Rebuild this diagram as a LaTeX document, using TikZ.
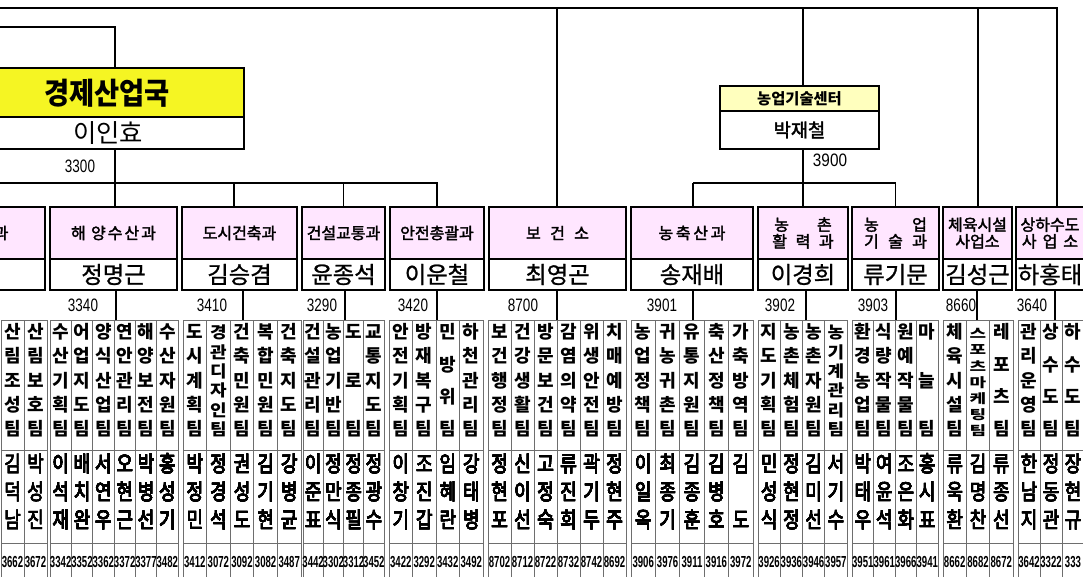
\documentclass[tikz,border=0pt]{standalone}
\usepackage{graphicx}
\usepackage{fontspec}
\setmainfont{Noto Sans CJK KR}
\newfontfamily\krmed[FakeBold=1]{Noto Sans CJK KR}
\newfontfamily\krsemi[FakeBold=2.2]{Noto Sans CJK KR}
\newfontfamily\numfont{Liberation Sans}
\usetikzlibrary{fit}
\definecolor{deptpink}{RGB}{255,230,255}
\definecolor{gukyellow}{RGB}{245,245,35}
\definecolor{centeryellow}{RGB}{255,255,190}
\definecolor{gridgray}{RGB}{110,110,110}

% one team column: chars spread from top to bottom
\newcommand\teamcol[3]{%
  \foreach \tc [count=\kk] in #3 {\xdef\nch{\kk}}%
  \pgfmathsetmacro\gap{97/(\nch-1)}%
  \pgfmathsetmacro\sy{min(1,(\gap-4)/17)}%
  \foreach \tc [count=\kk] in #3
    \node[teamchar] (team-#1-\kk) at ({#2},{334+(\kk-1)*\gap}) {\scalebox{1}[\sy]{\tc}};%
}

\begin{document}
\begin{tikzpicture}[x=0.75pt, y=-0.75pt,
    orgline/.style={line width=1.2pt},
    dropline/.style={line width=0.8pt},
    deptbox/.style={draw, line width=1.4pt, inner sep=0pt},
    headbox/.style={draw, line width=1.4pt, fill=white, inner sep=0pt},
    depttitle/.style={inner sep=0pt, align=center, font=\krsemi\fontsize{12}{12.5}\selectfont},
    headtext/.style={inner sep=0pt, font=\krmed\fontsize{17.5}{17.5}\selectfont},
    grid/.style={gridgray, line width=0.75pt},
    teamchar/.style={inner sep=0pt, text height=.85em, text depth=.15em,
      font=\fontsize{13.5}{13.5}\selectfont\bfseries},
    headchar/.style={inner sep=0pt, text height=.85em, text depth=.15em,
      font=\krsemi\fontsize{15}{15}\selectfont},
    telnum/.style={inner sep=0pt, font=\numfont\bfseries\fontsize{12}{12}\selectfont},
    deptnum/.style={inner sep=0pt, font=\numfont\fontsize{13.5}{13.5}\selectfont}]
  \useasboundingbox (0,0) rectangle (1083,576);
  \clip (0,0) rectangle (1083,576);
  \fill[white] (0,0) rectangle (1083,576);

  % teams
  \foreach \xa/\xb/\n/\teams/\heads/\nums [count=\g] in {
    1/47/2/{{산,림,조,성,팀},{산,림,보,호,팀}}/{{김,덕,남},{박,성,진}}/{3662,3672},
    50/178/6/{{수,산,기,획,팀},{어,업,지,도,팀},{양,식,산,업,팀},{연,안,관,리,팀},{해,양,보,전,팀},{수,산,자,원,팀}}/{{이,석,재},{배,치,완},{서,연,우},{오,현,근},{박,병,선},{홍,성,기}}/{3342,3352,3362,3372,3377,3482},
    183/301/5/{{도,시,계,획,팀},{경,관,디,자,인,팀},{건,축,민,원,팀},{복,합,민,원,팀},{건,축,지,도,팀}}/{{박,정,민},{정,경,석},{권,성,도},{김,기,현},{강,병,균}}/{3412,3072,3092,3082,3487},
    303/384/4/{{건,설,관,리,팀},{농,업,기,반,팀},{도,로,팀},{교,통,지,도,팀}}/{{이,준,표},{정,만,식},{정,종,필},{정,광,수}}/{3442,3302,3312,3452},
    389/483/4/{{안,전,기,획,팀},{방,재,복,구,팀},{민,방,위,팀},{하,천,관,리,팀}}/{{이,창,기},{조,진,갑},{임,혜,란},{강,태,병}}/{3422,3292,3432,3492},
    488/626/6/{{보,건,행,정,팀},{건,강,생,활,팀},{방,문,보,건,팀},{감,염,의,약,팀},{위,생,안,전,팀},{치,매,예,방,팀}}/{{정,현,포},{신,이,선},{고,정,숙},{류,진,희},{곽,기,두},{정,현,주}}/{8702,8712,8722,8732,8742,8692},
    631/753/5/{{농,업,정,책,팀},{귀,농,귀,촌,팀},{유,통,지,원,팀},{축,산,정,책,팀},{가,축,방,역,팀}}/{{이,일,옥},{최,종,기},{김,종,훈},{김,병,호},{김,{},도}}/{3906,3976,3911,3916,3972},
    758/847/4/{{지,도,기,획,팀},{농,촌,체,험,팀},{농,촌,자,원,팀},{농,기,계,관,리,팀}}/{{민,성,식},{정,현,정},{김,미,선},{서,기,수}}/{3926,3936,3946,3957},
    852/938/4/{{환,경,농,업,팀},{식,량,작,물,팀},{원,예,작,물,팀},{마,늘,팀}}/{{박,태,우},{여,윤,석},{조,은,화},{홍,시,표}}/{3951,3961,3966,3941},
    943/1013/3/{{체,육,시,설,팀},{스,포,츠,마,케,팅,팀},{레,포,츠,팀}}/{{류,욱,환},{김,명,찬},{류,종,선}}/{8662,8682,8672},
    1018/1084/3/{{관,리,운,영,팀},{상,수,도,팀},{하,수,도,팀}}/{{한,남,지},{정,동,관},{장,현,규}}/{3642,3322,333}}
  {
    \pgfmathsetmacro\w{(\xb-\xa)/\n}
    \pgfmathtruncatemacro\nm{\n-1}
    \draw[grid] (\xa,320) rectangle (\xb,590);
    \draw[grid] (\xa,450) -- (\xb,450) (\xa,543) -- (\xb,543);
    \foreach \i in {1,...,\nm}
      \draw[grid] ({\xa+\i*\w},320) -- ({\xa+\i*\w},590);
    \foreach \tm [count=\i] in \teams
      \teamcol{\g-\i}{\xa+(\i-0.5)*\w}{\tm}
    \foreach \hd [count=\i] in \heads
      \foreach \tc [count=\kk] in \hd
        \node[headchar] (head-\g-\i-\kk) at ({\xa+(\i-0.5)*\w},{467+(\kk-1)*28}) {\scalebox{0.9}[1.1]{\tc}};
    \foreach \num [count=\i] in \nums
      \node[telnum] (tel-\g-\i) at ({\xa+(\i-0.5)*\w},562) {\scalebox{0.6}[1]{\num}};
  }

  % departments
  \node[deptbox, fill=deptpink, fit={(-60,207) (45,259)}] (leftdept) {};
  \node[headbox, fit={(-60,259) (45,290)}] (leftdept-name) {};
  \node[depttitle] (leftdept-title) at (1,233) {과};
  \foreach \dept/\xa/\xb/\title/\head in {
    haeyang/50/177/{해\hspace{4pt}양\hspace{1.5pt}수\hspace{1.5pt}산\hspace{1.5pt}과}/정명근,
    dosi/182/297/{도시건축과}/김승겸,
    geonseol/302/385/{건설교통과}/윤종석,
    anjeon/390/484/{안전총괄과}/이운철,
    bogeon/489/626/{보\hspace{7pt}건\hspace{7pt}소}/최영곤,
    nongchuk/631/753/{농\hspace{2pt}축\hspace{2pt}산\hspace{2pt}과}/송재배,
    nongchon/758/848/{농\hspace{21pt}촌\\활\hspace{6.5pt}력\hspace{6.5pt}과}/이경희,
    nongup/852/939/{농\hspace{25pt}업\\기\hspace{7pt}술\hspace{7pt}과}/류기문,
    cheyuk/943/1012/{체육시설\\사업소}/김성근,
    sangha/1016/1084/{상하수도\\사\hspace{4.5pt}업\hspace{4.5pt}소}/하홍태}
  {
    \node[deptbox, fill=deptpink, fit={(\xa,207) (\xb,259)}] (\dept) {};
    \node[depttitle] (\dept-title) at (\dept.center) {\title};
    \node[headbox, fit={(\xa,259) (\xb,290)}] (\dept-name) {};
    \node[headtext] (\dept-head) at (\dept-name.center) {\head};
  }

  % 경제산업국, 농업기술센터
  \node[deptbox, fill=gukyellow, fit={(-14,68) (244,117)}] (guk) {};
  \node[headbox, fit={(-14,117) (244,149)}] (guk-name) {};
  \node[inner sep=0pt, font=\bfseries\fontsize{20.5}{20.5}\selectfont] (guk-title) at (107,93) {\scalebox{1}[1.1]{경제산업국}};
  \node[inner sep=0pt, font=\fontsize{19}{19}\selectfont] (guk-head) at (108,133) {이인효};
  \node[deptbox, fill=centeryellow, fit={(720,86) (879,111)}] (center) {};
  \node[inner sep=0pt, font=\bfseries\fontsize{11.5}{11.5}\selectfont] (center-title) at (center.center) {농업기술센터};
  \node[headbox, fit={(720,111) (879,149)}] (center-name) {};
  \node[inner sep=0pt, font=\krsemi\fontsize{14}{14}\selectfont] (center-head) at (center-name.center) {박재철};
  \node[deptnum] (n-guk) at (80,166) {\scalebox{0.75}[1]{3300}};
  \node[deptnum] (n-center) at (830,160) {\scalebox{0.85}[1]{3900}};

  % lines
  \coordinate (topbus) at (0,8);
  \coordinate (gukbus) at (0,27);
  \coordinate (sanbus) at (0,183);
  \coordinate (cbus) at (693,183);
  \coordinate (d-bogeon) at (557,8);
  \coordinate (d-center) at (803,8);
  \coordinate (d-cheyuk) at (978,8);
  \coordinate (d-sangha) at (1057,8);
  \coordinate (d-dosi) at (234,183);
  \draw[orgline] (topbus) -- (d-sangha) -- (d-sangha |- sangha.north);
  \foreach \d/\b in {d-bogeon/bogeon, d-center/center, d-cheyuk/cheyuk}
    \draw[orgline] (\d) -- (\d |- \b.north);
  \draw[orgline] (gukbus) -| (guk.north);
  \draw[orgline] (guk-name.south) -- (guk-name.south |- haeyang.north);
  \draw[orgline] (sanbus) -| (anjeon.north);
  \draw[orgline] (d-dosi) -- (d-dosi |- dosi.north);
  \draw[orgline] (geonseol.north |- sanbus) -- (geonseol.north);
  \draw[orgline] (center-name.south -| d-center) -- (d-center |- nongchon.north);
  \draw[orgline] (cbus) -| (nongup.north);
  \draw[orgline] (cbus) -- (cbus |- nongchuk.north);
  \foreach \dept/\x/\nx/\num in {haeyang/116/83/3340, dosi/243/212/3410,
      geonseol/345/322/3290, anjeon/437/413/3420, bogeon/557/523/8700,
      nongchuk/693/662/3901, nongchon/806/780/3902, nongup/896/873/3903,
      cheyuk/977/961/8660, sangha/1055/1032/3640}
  {
    \coordinate (g-\dept) at (\x,320);
    \draw[dropline] (g-\dept) -- (g-\dept |- \dept-name.south);
    \node[deptnum] (n-\dept) at (\nx,305) {\scalebox{0.75}[1]{\num}};
  }
\end{tikzpicture}
\end{document}
